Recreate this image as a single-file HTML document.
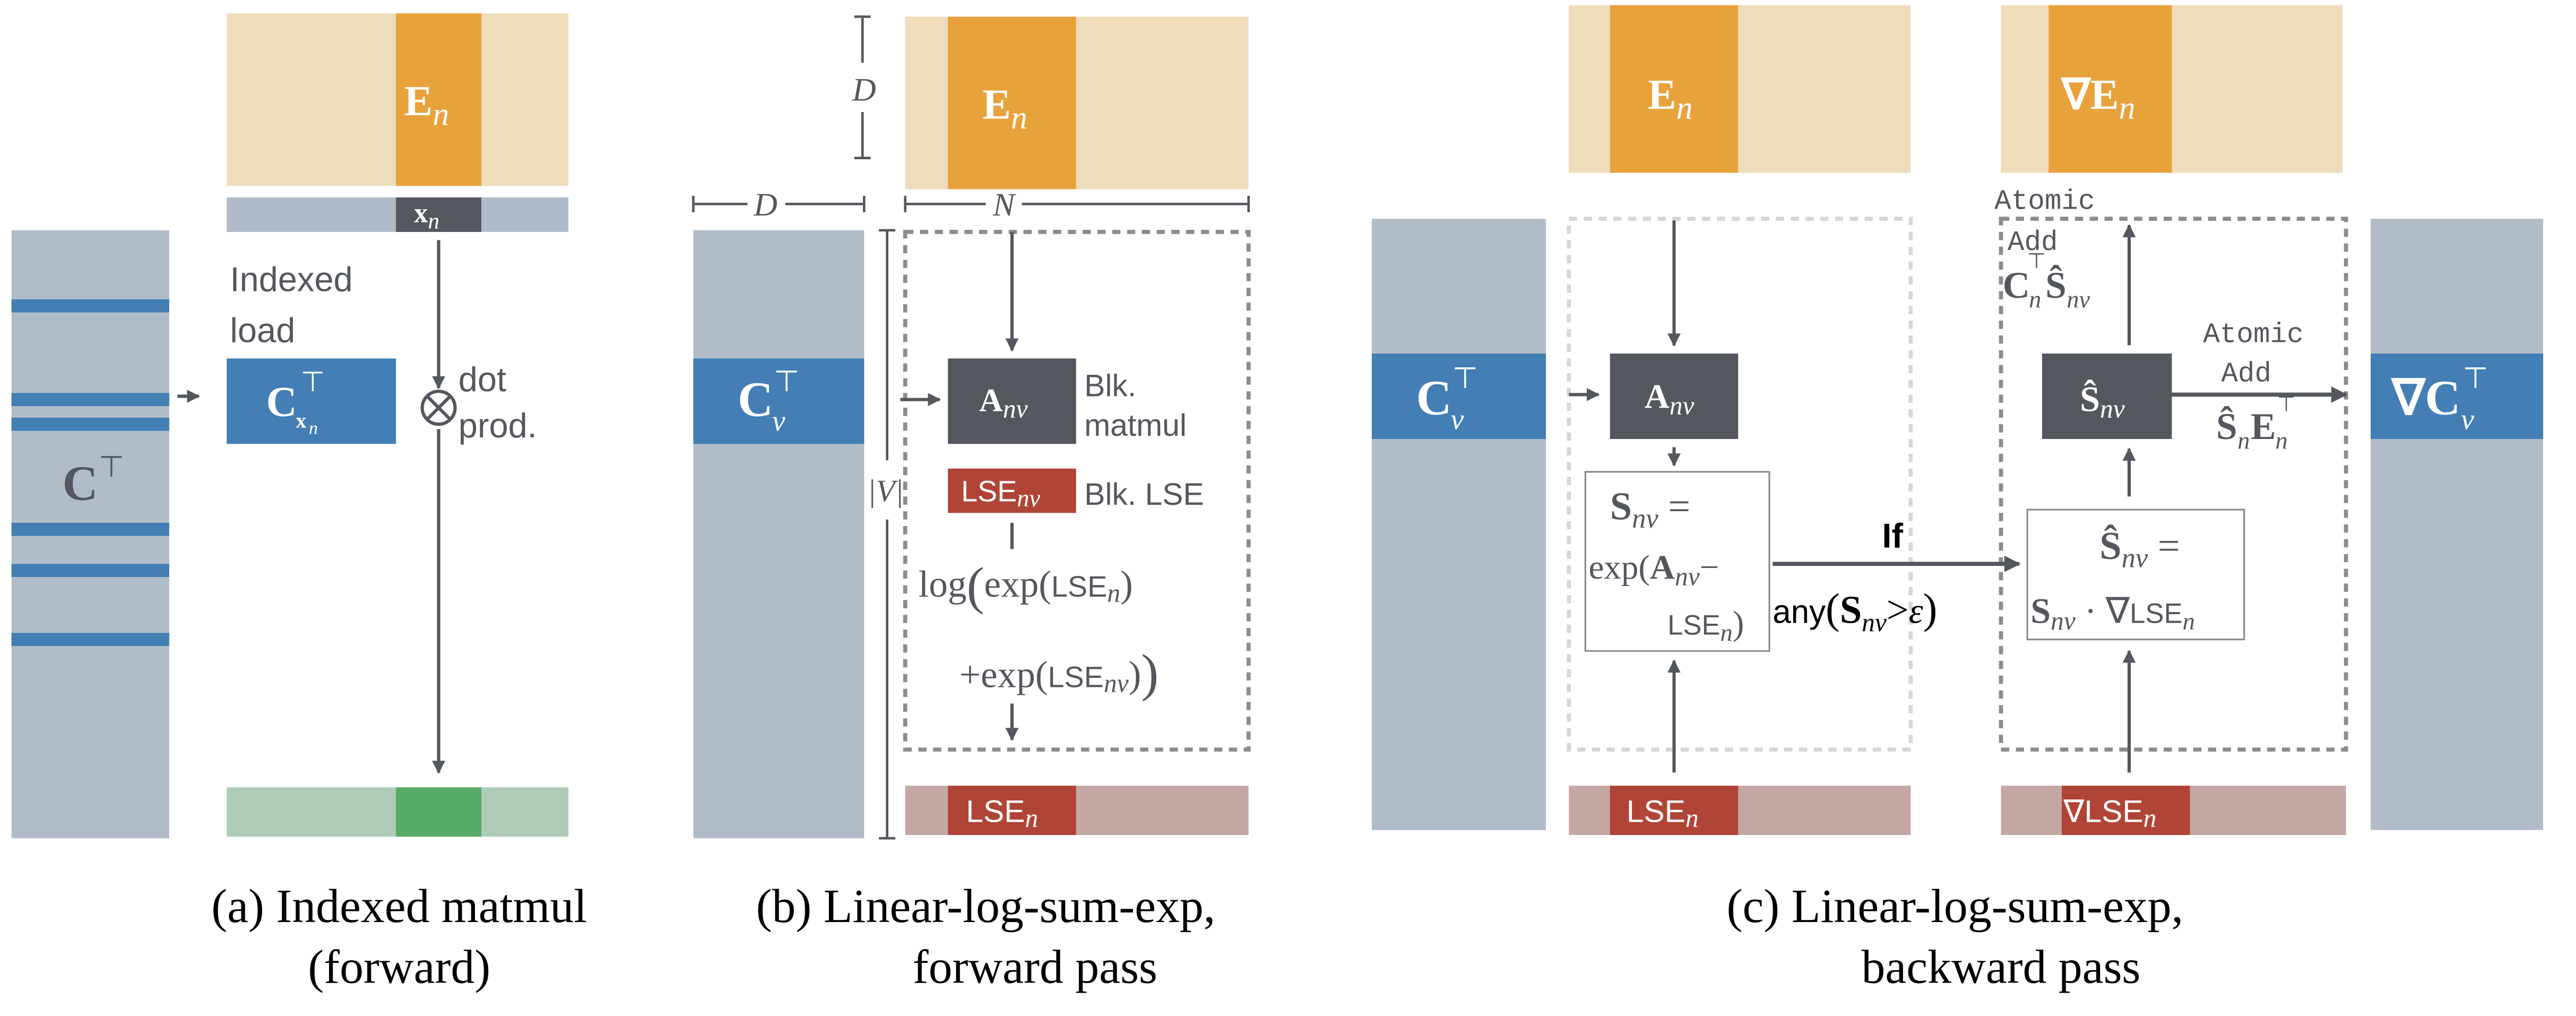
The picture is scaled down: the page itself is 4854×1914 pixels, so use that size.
<!DOCTYPE html>
<html><head><meta charset="utf-8"><style>
html,body{margin:0;padding:0;background:#fff;}
svg{display:block}
.s{font-family:"Liberation Sans",sans-serif;}
.r{font-family:"Liberation Serif",serif;}
.m{font-family:"Liberation Mono",monospace;}
</style></head><body>
<svg width="4854" height="1914" viewBox="0 0 1568 618" xmlns="http://www.w3.org/2000/svg">
<defs>
<marker id="ah" viewBox="0 0 10 10" refX="9" refY="5" markerWidth="4" markerHeight="4" orient="auto"><path d="M0,0 L10,5 L0,10 z" fill="#54585e"/></marker>
</defs>
<g fill="#54585e" stroke="none">
<!-- (a) -->
<rect x="7" y="140" width="96" height="370" fill="#b0bdc9"/>
<g fill="#437eb4">
<rect x="7" y="182" width="96" height="8"/><rect x="7" y="239" width="96" height="8"/><rect x="7" y="254" width="96" height="8"/>
<rect x="7" y="318" width="96" height="8"/><rect x="7" y="343" width="96" height="8"/><rect x="7" y="385" width="96" height="8"/>
</g>
<text x="38" y="304" class="r" font-size="30" font-weight="bold">C</text>
<text x="60" y="290" class="s" font-size="18">⊤</text>
<rect x="138" y="8" width="208" height="105" fill="#eedcba"/>
<rect x="241" y="8" width="52" height="105" fill="#e8a23c"/>
<text x="246" y="70" class="r" font-size="26" font-weight="bold" fill="#fff">E<tspan font-style="italic" font-weight="normal" font-size="20" dy="6">n</tspan></text>
<rect x="138" y="120" width="208" height="21" fill="#b0bbc9"/>
<rect x="241" y="120" width="52" height="21" fill="#54585e"/>
<text x="252" y="135" class="r" font-size="17" font-weight="bold" fill="#fff">x<tspan font-style="italic" font-weight="normal" font-size="14" dy="4">n</tspan></text>
<text x="140" y="177" class="s" font-size="21">Indexed</text>
<text x="140" y="208" class="s" font-size="21">load</text>
<line x1="108" y1="241" x2="121" y2="241" stroke="#54585e" stroke-width="2" marker-end="url(#ah)"/>
<rect x="138" y="218" width="103" height="52" fill="#437eb4"/>
<text x="162" y="253" class="r" font-size="26" font-weight="bold" fill="#fff">C</text>
<text x="180" y="260" class="r" font-size="13" font-weight="bold" fill="#fff">x</text>
<text x="188" y="264" class="r" font-size="11" font-style="italic" fill="#fff">n</text>
<text x="183" y="238" class="s" font-size="17" fill="#fff">⊤</text>
<line x1="267" y1="146" x2="267" y2="236" stroke="#54585e" stroke-width="2" marker-end="url(#ah)"/>
<circle cx="267" cy="248" r="10" fill="none" stroke="#54585e" stroke-width="2"/>
<path d="M260,241 L274,255 M274,241 L260,255" stroke="#54585e" stroke-width="2"/>
<text x="279" y="238" class="s" font-size="21">dot</text>
<text x="279" y="266" class="s" font-size="21">prod.</text>
<line x1="267" y1="261" x2="267" y2="470" stroke="#54585e" stroke-width="2" marker-end="url(#ah)"/>
<rect x="138" y="479" width="208" height="30" fill="#adcbb7"/>
<rect x="241" y="479" width="52" height="30" fill="#56aa67"/>
<text x="243" y="561" class="r" font-size="29" fill="#000" text-anchor="middle">(a) Indexed matmul</text>
<text x="243" y="598" class="r" font-size="29" fill="#000" text-anchor="middle">(forward)</text>

<!-- (b) -->
<g stroke="#54585e" stroke-width="1.5" fill="none">
<path d="M520,10 H530 M525,10 V38 M525,68 V96 M520,96 H530"/>
<path d="M422,119 V129 M422,124 H455 M478,124 H526 M526,119 V129"/>
<path d="M535,140 H545 M540,140 V280 M540,316 V510 M535,510 H545"/>
<path d="M551,119 V129 M551,124 H600 M622,124 H760 M760,119 V129"/>
</g>
<text x="526" y="61" class="r" font-size="20" font-style="italic" text-anchor="middle">D</text>
<text x="466" y="131" class="r" font-size="20" font-style="italic" text-anchor="middle">D</text>
<text x="611" y="131" class="r" font-size="20" font-style="italic" text-anchor="middle">N</text>
<text x="539" y="305" class="r" font-size="19" font-style="italic" text-anchor="middle">|V|</text>
<rect x="422" y="140" width="104" height="370" fill="#b0bdc9"/>
<rect x="422" y="218" width="104" height="52" fill="#437eb4"/>
<text x="449" y="253" class="r" font-size="30" font-weight="bold" fill="#fff">C</text>
<text x="470" y="262" class="r" font-size="18" font-style="italic" fill="#fff">v</text>
<text x="471" y="238" class="s" font-size="18" fill="#fff">⊤</text>
<rect x="551" y="10" width="209" height="105" fill="#eedcba"/>
<rect x="577" y="10" width="78" height="105" fill="#e8a23c"/>
<text x="598" y="72" class="r" font-size="26" font-weight="bold" fill="#fff">E<tspan font-style="italic" font-weight="normal" font-size="20" dy="6">n</tspan></text>
<rect x="551" y="141" width="209" height="315" fill="none" stroke="#8c8c8c" stroke-width="2.5" stroke-dasharray="5,4"/>
<line x1="616" y1="141" x2="616" y2="213" stroke="#54585e" stroke-width="2" marker-end="url(#ah)"/>
<line x1="548" y1="243" x2="572" y2="243" stroke="#54585e" stroke-width="2" marker-end="url(#ah)"/>
<rect x="577" y="218" width="78" height="52" fill="#54585e"/>
<text x="596" y="250" class="r" font-size="20" font-weight="bold" fill="#fff">A<tspan font-style="italic" font-weight="normal" font-size="16" dy="4">nv</tspan></text>
<text x="660" y="241" class="s" font-size="19">Blk.</text>
<text x="660" y="265" class="s" font-size="19">matmul</text>
<rect x="577" y="285" width="78" height="27" fill="#b04436"/>
<text x="585" y="305" class="s" font-size="18" fill="#fff">LSE<tspan class="r" font-style="italic" font-size="15" dy="3">nv</tspan></text>
<text x="660" y="307" class="s" font-size="19">Blk. LSE</text>
<line x1="616" y1="318" x2="616" y2="334" stroke="#54585e" stroke-width="2"/>
<text x="559" y="363" class="r" font-size="23">log<tspan font-size="32" dy="4">(</tspan><tspan dy="-4">exp(</tspan><tspan class="s" font-size="18">LSE</tspan><tspan font-style="italic" font-size="16" dy="3">n</tspan><tspan dy="-3">)</tspan></text>
<text x="584" y="418" class="r" font-size="23">+exp(<tspan class="s" font-size="18">LSE</tspan><tspan font-style="italic" font-size="16" dy="3">nv</tspan><tspan dy="-3">)</tspan><tspan font-size="32" dy="2">)</tspan></text>
<line x1="616" y1="428" x2="616" y2="450" stroke="#54585e" stroke-width="2" marker-end="url(#ah)"/>
<rect x="551" y="478" width="209" height="30" fill="#c4a6a2"/>
<rect x="577" y="478" width="78" height="30" fill="#b04436"/>
<text x="588" y="500" class="s" font-size="19" fill="#fff">LSE<tspan class="r" font-style="italic" font-size="16" dy="3">n</tspan></text>
<text x="600" y="561" class="r" font-size="29" fill="#000" text-anchor="middle">(b) Linear-log-sum-exp,</text>
<text x="630" y="598" class="r" font-size="29" fill="#000" text-anchor="middle">forward pass</text>

<!-- (c) -->
<rect x="955" y="3" width="208" height="102" fill="#eedcba"/>
<rect x="980" y="3" width="78" height="102" fill="#e8a23c"/>
<text x="1003" y="66" class="r" font-size="26" font-weight="bold" fill="#fff">E<tspan font-style="italic" font-weight="normal" font-size="20" dy="6">n</tspan></text>
<rect x="1218" y="3" width="208" height="102" fill="#eedcba"/>
<rect x="1247" y="3" width="75" height="102" fill="#e8a23c"/>
<text x="1255" y="66" class="r" font-size="26" font-weight="bold" fill="#fff">∇E<tspan font-style="italic" font-weight="normal" font-size="20" dy="6">n</tspan></text>
<rect x="835" y="133" width="106" height="372" fill="#b0bdc9"/>
<rect x="835" y="215" width="106" height="52" fill="#437eb4"/>
<text x="862" y="252" class="r" font-size="30" font-weight="bold" fill="#fff">C</text>
<text x="883" y="261" class="r" font-size="18" font-style="italic" fill="#fff">v</text>
<text x="884" y="236" class="s" font-size="18" fill="#fff">⊤</text>
<rect x="1443" y="133" width="105" height="372" fill="#b0bdc9"/>
<rect x="1443" y="215" width="105" height="52" fill="#437eb4"/>
<text x="1456" y="252" class="r" font-size="30" font-weight="bold" fill="#fff">∇C</text>
<text x="1498" y="261" class="r" font-size="18" font-style="italic" fill="#fff">v</text>
<text x="1499" y="236" class="s" font-size="18" fill="#fff">⊤</text>
<rect x="955" y="133" width="208" height="323" fill="none" stroke="#d6d6d6" stroke-width="2.5" stroke-dasharray="5,4"/>
<rect x="1218" y="133" width="210" height="323" fill="none" stroke="#8c8c8c" stroke-width="2.5" stroke-dasharray="5,4"/>
<line x1="1019" y1="134" x2="1019" y2="210" stroke="#54585e" stroke-width="2" marker-end="url(#ah)"/>
<line x1="955" y1="240" x2="973" y2="240" stroke="#54585e" stroke-width="2" marker-end="url(#ah)"/>
<rect x="980" y="215" width="78" height="52" fill="#54585e"/>
<text x="1001" y="248" class="r" font-size="21" font-weight="bold" fill="#fff">A<tspan font-style="italic" font-weight="normal" font-size="16" dy="4">nv</tspan></text>
<line x1="1019" y1="272" x2="1019" y2="283" stroke="#54585e" stroke-width="2" marker-end="url(#ah)"/>
<rect x="965" y="287" width="112" height="109" fill="#fff" stroke="#888" stroke-width="1"/>
<text x="980" y="316" class="r" font-size="24" font-weight="bold">S<tspan font-style="italic" font-weight="normal" font-size="17" dy="5">nv</tspan><tspan font-weight="normal" dy="-5"> =</tspan></text>
<text x="967" y="352" class="r" font-size="21">exp(<tspan font-weight="bold">A</tspan><tspan font-style="italic" font-size="16" dy="4">nv</tspan><tspan dy="-4">−</tspan></text>
<text x="1015" y="386" class="s" font-size="17">LSE<tspan class="r" font-style="italic" font-size="15" dy="4">n</tspan><tspan class="r" font-size="21" dy="-4">)</tspan></text>
<line x1="1019" y1="470" x2="1019" y2="402" stroke="#54585e" stroke-width="2" marker-end="url(#ah)"/>
<line x1="1079" y1="343" x2="1229" y2="343" stroke="#54585e" stroke-width="2.5" marker-end="url(#ah)"/>
<text x="1152" y="333" class="s" font-size="21" font-weight="bold" fill="#000" text-anchor="middle">If</text>
<text x="1079" y="379" class="s" font-size="20" fill="#000">any<tspan class="r" font-size="26">(</tspan><tspan class="r" font-size="24" font-weight="bold">S</tspan><tspan class="r" font-style="italic" font-size="16" dy="5">nv</tspan><tspan class="r" font-size="24" dy="-5">&gt;</tspan><tspan class="r" font-style="italic" font-size="22">ε</tspan><tspan class="r" font-size="26">)</tspan></text>
<rect x="1234" y="310" width="132" height="79" fill="#fff" stroke="#888" stroke-width="1"/>
<text x="1278" y="340" class="r" font-size="24" font-weight="bold">Ŝ<tspan font-style="italic" font-weight="normal" font-size="17" dy="5">nv</tspan><tspan font-weight="normal" dy="-5"> =</tspan></text>
<text x="1236" y="379" class="r" font-size="22" font-weight="bold">S<tspan font-style="italic" font-weight="normal" font-size="16" dy="4">nv</tspan><tspan font-weight="normal" dy="-4"> · ∇</tspan><tspan class="s" font-weight="normal" font-size="17">LSE</tspan><tspan font-style="italic" font-weight="normal" font-size="15" dy="4">n</tspan></text>
<rect x="1243" y="215" width="79" height="52" fill="#54585e"/>
<text x="1266" y="250" class="r" font-size="22" font-weight="bold" fill="#fff">Ŝ<tspan font-style="italic" font-weight="normal" font-size="16" dy="4">nv</tspan></text>
<line x1="1296" y1="210" x2="1296" y2="137" stroke="#54585e" stroke-width="2" marker-end="url(#ah)"/>
<line x1="1296" y1="302" x2="1296" y2="273" stroke="#54585e" stroke-width="2" marker-end="url(#ah)"/>
<line x1="1296" y1="470" x2="1296" y2="396" stroke="#54585e" stroke-width="2" marker-end="url(#ah)"/>
<text x="1214" y="127" class="m" font-size="17">Atomic</text>
<text x="1222" y="152" class="m" font-size="17">Add</text>
<text x="1219" y="181" class="r" font-size="23" font-weight="bold">C</text>
<text x="1235" y="187" class="r" font-size="15" font-style="italic">n</text>
<text x="1234" y="163" class="s" font-size="13">⊤</text>
<text x="1245" y="181" class="r" font-size="23" font-weight="bold">Ŝ</text>
<text x="1258" y="187" class="r" font-size="15" font-style="italic">nv</text>
<line x1="1309" y1="240" x2="1428" y2="240" stroke="#54585e" stroke-width="2.5" marker-end="url(#ah)"/>
<text x="1341" y="208" class="m" font-size="17">Atomic</text>
<text x="1352" y="232" class="m" font-size="17">Add</text>
<text x="1349" y="267" class="r" font-size="23" font-weight="bold">Ŝ</text>
<text x="1362" y="273" class="r" font-size="15" font-style="italic">n</text>
<text x="1370" y="267" class="r" font-size="23" font-weight="bold">E</text>
<text x="1385" y="273" class="r" font-size="15" font-style="italic">n</text>
<text x="1386" y="250" class="s" font-size="13">⊤</text>
<rect x="955" y="478" width="208" height="30" fill="#c4a6a2"/>
<rect x="980" y="478" width="78" height="30" fill="#b04436"/>
<text x="990" y="500" class="s" font-size="19" fill="#fff">LSE<tspan class="r" font-style="italic" font-size="16" dy="3">n</tspan></text>
<rect x="1218" y="478" width="210" height="30" fill="#c4a6a2"/>
<rect x="1255" y="478" width="78" height="30" fill="#b04436"/>
<text x="1256" y="500" class="s" font-size="19" fill="#fff">∇LSE<tspan class="r" font-style="italic" font-size="16" dy="3">n</tspan></text>
<text x="1190" y="561" class="r" font-size="29" fill="#000" text-anchor="middle">(c) Linear-log-sum-exp,</text>
<text x="1218" y="598" class="r" font-size="29" fill="#000" text-anchor="middle">backward pass</text>
</g>
</svg>
</body></html>
